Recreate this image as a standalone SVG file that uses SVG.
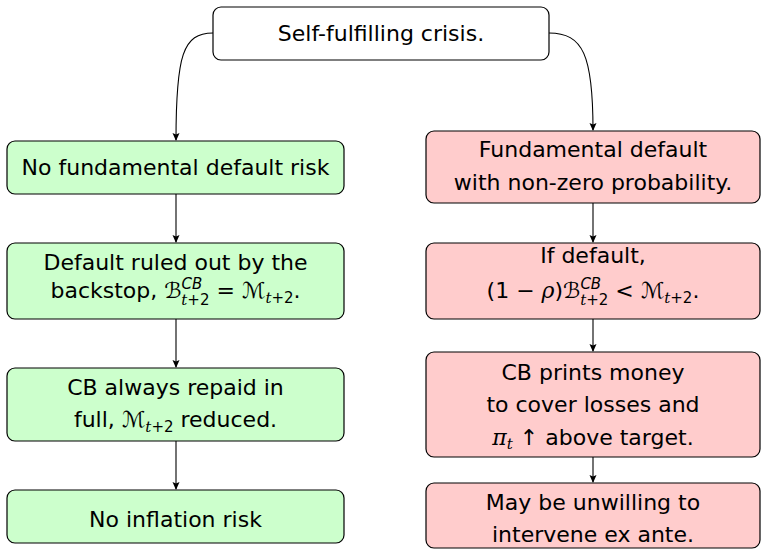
<svg xmlns="http://www.w3.org/2000/svg" width="761" height="549" viewBox="0 0 761 549">
<defs>
<style>
text{font-family:"DejaVu Sans","Liberation Sans",sans-serif;font-size:22px;fill:#000;text-anchor:middle}
.m{font-family:"DejaVu Serif","Liberation Serif",serif;font-style:italic}
.i{font-style:italic}
.s{font-size:15px}
.box{stroke:#000;stroke-width:1.2}
.g{fill:#ccffcc}
.r{fill:#ffcccc}
.w{fill:#fff}
.c{fill:none;stroke:#000;stroke-width:1.1;marker-end:url(#ah)}
</style>
<marker id="ah" markerWidth="8" markerHeight="8" viewBox="0 0 8 8" refX="7" refY="4" orient="auto" markerUnits="userSpaceOnUse">
<path d="M0,0.5 L8,4 L0,7.5 L1.5,4 Z" fill="#000"/>
</marker>
</defs>
<g id="connectors">
<path class="c" d="M213,33 C183,33 176,55 176,140"/>
<path class="c" d="M549,33 C583,33 593,55 593,130"/>
<path class="c" d="M176,194 L176,242"/>
<path class="c" d="M176,319 L176,367"/>
<path class="c" d="M176,441 L176,489"/>
<path class="c" d="M593,203 L593,242"/>
<path class="c" d="M593,319 L593,351"/>
<path class="c" d="M593,457 L593,482"/>
</g>
<g id="top">
<rect class="box w" x="213" y="7" width="336" height="53" rx="8"/>
<text x="381" y="41">Self-fulfilling crisis.</text>
</g>
<g id="l1">
<rect class="box g" x="7" y="141" width="337" height="53" rx="8"/>
<text x="175.5" y="175">No fundamental default risk</text>
</g>
<g id="l2">
<rect class="box g" x="7" y="243" width="337" height="76" rx="8"/>
<text x="175.5" y="270">Default ruled out by the</text>
<text x="175.5" y="298">backstop, ℬ<tspan class="s i" dy="-9">CB</tspan><tspan class="s" dx="-21" dy="16"><tspan class="m">t</tspan>+2</tspan><tspan dy="-7"> = ℳ</tspan><tspan class="s" dy="5"><tspan class="m">t</tspan>+2</tspan><tspan dy="-5">.</tspan></text>
</g>
<g id="l3">
<rect class="box g" x="7" y="368" width="337" height="73" rx="8"/>
<text x="175.5" y="395">CB always repaid in</text>
<text x="175.5" y="427">full, ℳ<tspan class="s" dy="5"><tspan class="m">t</tspan>+2</tspan><tspan dy="-5"> reduced.</tspan></text>
</g>
<g id="l4">
<rect class="box g" x="7" y="490" width="337" height="53" rx="8"/>
<text x="175.5" y="527">No inflation risk</text>
</g>
<g id="r1">
<rect class="box r" x="426" y="131" width="334" height="72" rx="8"/>
<text x="593" y="157">Fundamental default</text>
<text x="593" y="190">with non-zero probability.</text>
</g>
<g id="r2">
<rect class="box r" x="426" y="243" width="334" height="76" rx="8"/>
<text x="593" y="263">If default,</text>
<text x="593" y="298">(1 − <tspan class="m">ρ</tspan>)ℬ<tspan class="s i" dy="-9">CB</tspan><tspan class="s" dx="-21" dy="16"><tspan class="m">t</tspan>+2</tspan><tspan dy="-7"> &lt; ℳ</tspan><tspan class="s" dy="5"><tspan class="m">t</tspan>+2</tspan><tspan dy="-5">.</tspan></text>
</g>
<g id="r3">
<rect class="box r" x="426" y="352" width="334" height="105" rx="8"/>
<text x="593" y="380">CB prints money</text>
<text x="593" y="412">to cover losses and</text>
<text x="593" y="445"><tspan class="m">π</tspan><tspan class="s m" dy="4">t</tspan><tspan dy="-4"> ↑ above target.</tspan></text>
</g>
<g id="r4">
<rect class="box r" x="426" y="483" width="334" height="65" rx="8"/>
<text x="593" y="510">May be unwilling to</text>
<text x="593" y="542">intervene ex ante.</text>
</g>
</svg>
